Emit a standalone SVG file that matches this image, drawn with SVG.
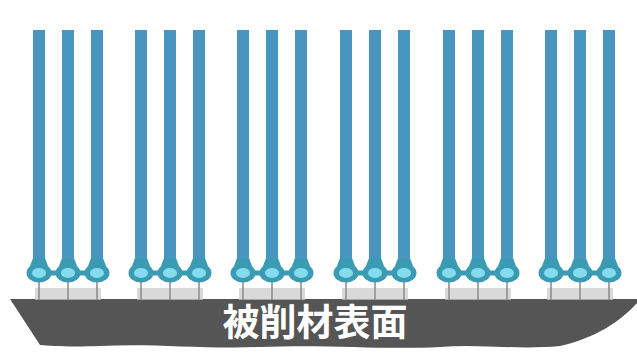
<svg xmlns="http://www.w3.org/2000/svg" xmlns:xlink="http://www.w3.org/1999/xlink" width="637" height="354" viewBox="0 0 637 354">
  <style>
    .rod { fill: #4896bf; }
    .ring { fill: #3b9bb3; }
    .core { fill: #86dcef; }
    .bond { stroke: #3b9bb3; stroke-width: 5; }
    .stem { stroke: #8a8a8a; stroke-width: 1.5; }
    .pad { fill: #c9c9c9; opacity: 0.7; }
    .label { font-family: "Noto Sans CJK JP", "Noto Sans CJK SC", sans-serif; font-weight: bold; font-size: 37px; fill: #ffffff; }
  </style>
  <defs>
    <!-- one molecule: rod, head, and anchor stem -->
    <g id="mol">
      <rect class="rod" x="-6" y="30" width="12" height="234"/>
      <path class="ring" d="M-6 258 L-9 266 L9 266 L6 258 Z"/>
      <line class="stem" x1="0" y1="280" x2="0" y2="300"/>
      <ellipse class="ring" cx="0" cy="273" rx="12.5" ry="9.5"/>
      <ellipse class="core" cx="0" cy="273" rx="7" ry="5"/>
    </g>
    <!-- group of three linked molecules -->
    <g id="trio">
      <rect class="pad" x="-4" y="288" width="66" height="12"/>
      <line class="bond" x1="0" y1="273" x2="58" y2="273"/>
      <use xlink:href="#mol" x="0"/>
      <use xlink:href="#mol" x="29"/>
      <use xlink:href="#mol" x="58"/>
    </g>
  </defs>

  <rect width="637" height="354" fill="#ffffff"/>

  <!-- substrate -->
  <g id="surface">
    <path d="M10 299 L637 299 L637 303 C620 322 595 338 560 346 C520 350 480 344 440 347 C380 350 330 344 260 347 C200 349 150 343 100 346 C70 347 50 346 40 345 Z" fill="#555555"/>
    <text class="label" x="315" y="336" text-anchor="middle">被削材表面</text>
  </g>

  <g id="molecules">
    <g id="group1"><use xlink:href="#trio" x="39"/></g>
    <g id="group2"><use xlink:href="#trio" x="141"/></g>
    <g id="group3"><use xlink:href="#trio" x="243"/></g>
    <g id="group4"><use xlink:href="#trio" x="346"/></g>
    <g id="group5"><use xlink:href="#trio" x="449"/></g>
    <g id="group6"><use xlink:href="#trio" x="551"/></g>
  </g>
</svg>
